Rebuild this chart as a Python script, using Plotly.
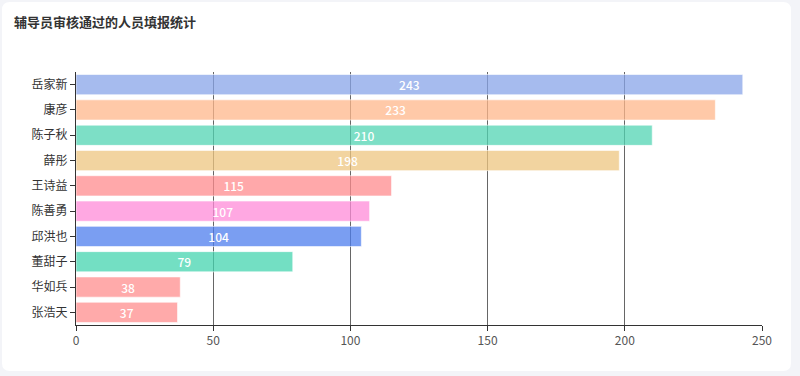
import plotly.graph_objects as go

names = ["岳家新", "康彦", "陈子秋", "薛彤", "王诗益", "陈善勇", "邱洪也", "董甜子", "华如兵", "张浩天"]
values = [243, 233, 210, 198, 115, 107, 104, 79, 38, 37]
colors = ["rgba(136,164,232,0.75)", "rgba(255,183,139,0.75)", "rgba(82,212,179,0.75)",
          "rgba(238,198,128,0.75)", "rgba(255,139,142,0.75)", "rgba(255,139,216,0.75)",
          "rgba(78,126,238,0.75)", "rgba(68,212,175,0.75)", "rgba(255,142,142,0.75)",
          "rgba(255,142,142,0.75)"]
xticks = [0, 50, 100, 150, 200, 250]

W, H = 800, 376
L, R, T, B = 76, 38, 72, 51
pw, ph = W - L - R, H - T - B

def px(x):
    return (x - L) / pw

def py(y):
    return (H - B - y) / ph

# rounded card
x0, y0, x1, y1, r = 2, 2, 791, 371, 8
pts = [
    f"M {px(x0+r)},{py(y0)}",
    f"L {px(x1-r)},{py(y0)}",
    f"Q {px(x1)},{py(y0)} {px(x1)},{py(y0+r)}",
    f"L {px(x1)},{py(y1-r)}",
    f"Q {px(x1)},{py(y1)} {px(x1-r)},{py(y1)}",
    f"L {px(x0+r)},{py(y1)}",
    f"Q {px(x0)},{py(y1)} {px(x0)},{py(y1-r)}",
    f"L {px(x0)},{py(y0+r)}",
    f"Q {px(x0)},{py(y0)} {px(x0+r)},{py(y0)}",
    "Z",
]

fig = go.Figure()
fig.add_trace(go.Bar(
    x=values, y=names, orientation="h",
    marker=dict(color=colors, line=dict(color="rgba(255,255,255,0.6)", width=1)),
    text=values, textposition="inside", insidetextanchor="middle",
    textfont=dict(color="white", size=12, family="Noto Sans CJK SC", weight=500),
    textangle=0, hoverinfo="x+y",
))

fig.add_shape(type="path", path=" ".join(pts), xref="paper", yref="paper",
              fillcolor="white", line=dict(width=0), layer="below")

fig.update_layout(
    width=W, height=H,
    margin=dict(l=L, r=R, t=T, b=B, pad=0),
    paper_bgcolor="#f3f4f8", plot_bgcolor="rgba(0,0,0,0)",
    font=dict(family="Noto Sans CJK SC", size=12, color="#555"),
    showlegend=False, bargap=0.2,
    uniformtext=dict(minsize=12, mode="show"),
    title=dict(text="<b>辅导员审核通过的人员填报统计</b>", x=14 / W, xanchor="left",
               y=1 - 22 / H, yanchor="middle",
               font=dict(size=13, color="#333", family="Noto Sans CJK SC")),
    xaxis=dict(range=[0, 250], tickvals=xticks, showgrid=True, gridcolor="#666",
               gridwidth=1, zeroline=False, showline=True, linecolor="#333", linewidth=1,
               ticks="outside", ticklen=5, tickcolor="#333",
               tickfont=dict(size=12, color="#555")),
    yaxis=dict(autorange="reversed", showline=True, linecolor="#333", linewidth=1,
               ticks="outside", ticklen=5, tickcolor="#333", showgrid=False,
               tickfont=dict(size=12, color="#333")),
)

fig.write_html("out.html", config={"displayModeBar": False},
               post_script="document.body.style.margin='0';")
